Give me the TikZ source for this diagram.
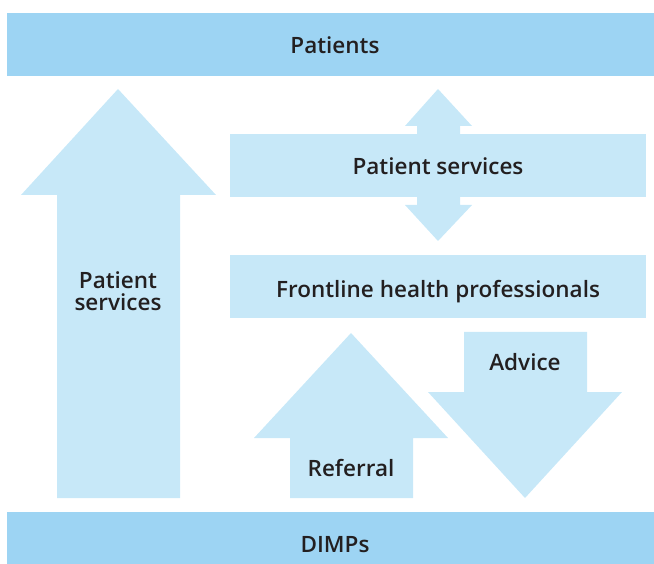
\documentclass[tikz,border=0pt]{standalone}
\usepackage{fontspec}
\setmainfont{Open Sans}[BoldFont=* Semibold]
\usepackage{tikz}
\usetikzlibrary{positioning}
\definecolor{barblue}{HTML}{9DD4F3}
\definecolor{paleblue}{HTML}{C7E8F8}
\definecolor{inkgray}{HTML}{231F20}
\tikzset{bar/.style={fill=barblue, draw=none}, pale/.style={fill=paleblue, draw=none},
    lbl/.style={text=inkgray, font=\fontsize{22.5}{22.5}\selectfont\bfseries, align=center, inner sep=0pt}}

\begin{document}
\begin{tikzpicture}[x=1pt, y=-1pt]
                 \useasboundingbox (0,0) rectangle (654,564);

                 % top and bottom bars
                 \fill[bar] (7,13) rectangle (654,76);
                 \node[lbl] (patients) at (335,45) {Patients};
                 \fill[bar] (7,512) rectangle (654,564);
                 \node[lbl] (dimps) at (335,545) {DIMPs};

                 % big arrow on the left
                 \fill[pale] (57,498) -- (57,195) -- (21,195) -- (118,89) -- (216,195) -- (180,195) -- (180,498) -- cycle;
                 \node[lbl] (services) at (118,291) {Patient\\services};

                 % double arrow
                 \fill[pale] (417,126) -- (405,126) -- (438,89) -- (472,126) -- (460,126)
                       -- (460,205) -- (472,205) -- (438,241) -- (405,205) -- (417,205) -- cycle;
                 \fill[pale] (230,134) rectangle (646,197);
                 \node[lbl] (patserv) at (438,166) {Patient services};

                 \fill[pale] (230,255) rectangle (646,318);
                 \node[lbl] (frontline) at (438,292) {Frontline health professionals};

                 % referral
                 \fill[pale] (290,498) -- (290,438) -- (254,438) -- (351,333) -- (448,438) -- (413,438) -- (413,498) -- cycle;
                 \node[lbl] (referral) at (351,468) {Referral};

                 % advice
                 \fill[pale] (464,332) -- (587,332) -- (587,392) -- (622,392) -- (525,498) -- (428,392) -- (464,392) -- cycle;
                 \node[lbl] (advice) at (525,362) {Advice};

\end{tikzpicture}
\end{document}
